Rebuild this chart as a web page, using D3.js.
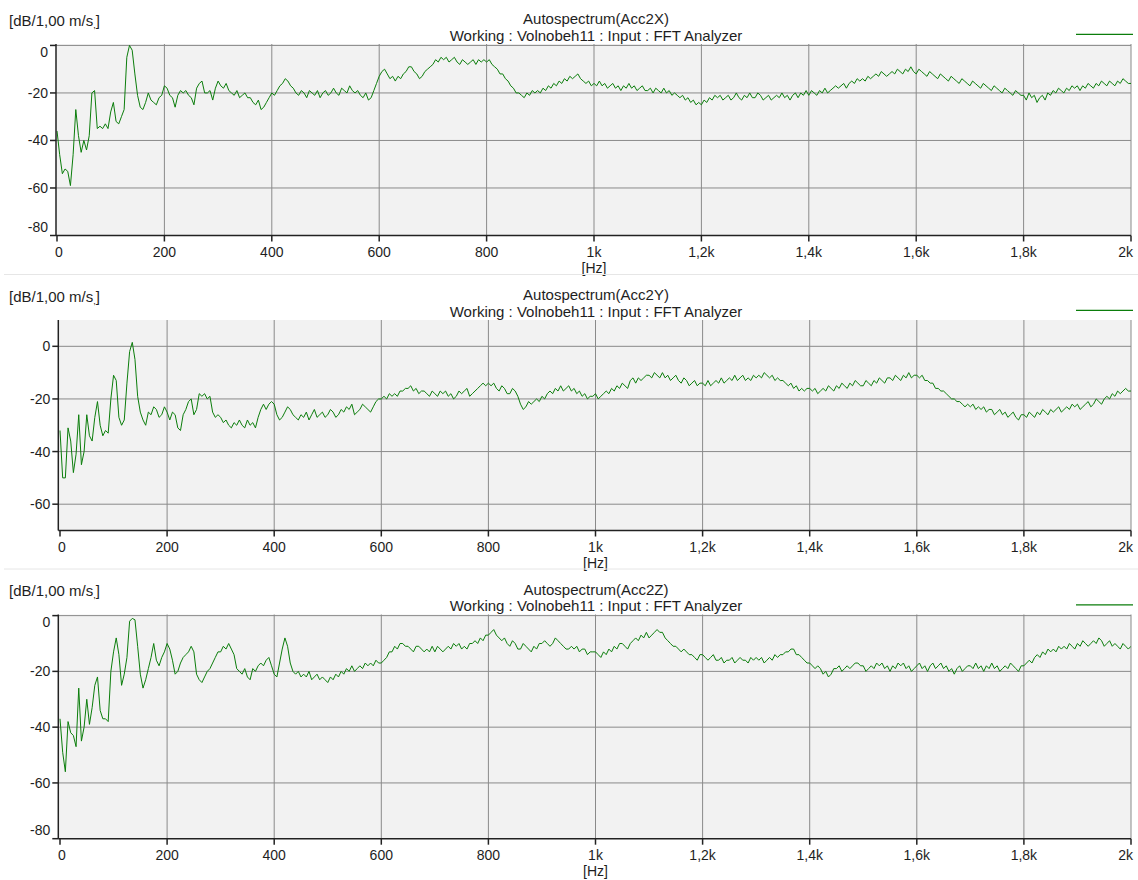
<!DOCTYPE html>
<html>
<head>
<meta charset="utf-8">
<script src="https://cdn.jsdelivr.net/npm/d3@7"></script>
<style>
  body { margin: 0; background: #fff; }
  svg text { font-family: "Liberation Sans", Arial, sans-serif; fill: #1e1e1e; }
</style>
</head>
<body>
<svg id="chart" width="1138" height="880"></svg>
<script>
// frequency bins [Hz], 5 Hz resolution
var freqLow = [0,5,10,15,20,25,30,35,40,45, 50,55,60,65,70,75,80,85,90,95,
  100,105,110,115,120,125,130,135,140,145, 150,155,160,165,170,175,180,185,190,195,
  200,205,210,215,220,225,230,235,240,245, 250,255,260,265,270,275,280,285,290,295];
var freqHigh = [
  300,305,310,315,320,325,330,335,340,345,350,355,360,365,370,375,380,385,390,395,
  400,405,410,415,420,425,430,435,440,445,450,455,460,465,470,475,480,485,490,495,
  500,505,510,515,520,525,530,535,540,545,550,555,560,565,570,575,580,585,590,595,
  600,605,610,615,620,625,630,635,640,645,650,655,660,665,670,675,680,685,690,695,
  700,705,710,715,720,725,730,735,740,745,750,755,760,765,770,775,780,785,790,795,
  800,805,810,815,820,825,830,835,840,845,850,855,860,865,870,875,880,885,890,895,
  900,905,910,915,920,925,930,935,940,945,950,955,960,965,970,975,980,985,990,995,
  1000,1005,1010,1015,1020,1025,1030,1035,1040,1045,1050,1055,1060,1065,1070,1075,1080,1085,1090,1095,
  1100,1105,1110,1115,1120,1125,1130,1135,1140,1145,1150,1155,1160,1165,1170,1175,1180,1185,1190,1195,
  1200,1205,1210,1215,1220,1225,1230,1235,1240,1245,1250,1255,1260,1265,1270,1275,1280,1285,1290,1295,
  1300,1305,1310,1315,1320,1325,1330,1335,1340,1345,1350,1355,1360,1365,1370,1375,1380,1385,1390,1395,
  1400,1405,1410,1415,1420,1425,1430,1435,1440,1445,1450,1455,1460,1465,1470,1475,1480,1485,1490,1495,
  1500,1505,1510,1515,1520,1525,1530,1535,1540,1545,1550,1555,1560,1565,1570,1575,1580,1585,1590,1595,
  1600,1605,1610,1615,1620,1625,1630,1635,1640,1645,1650,1655,1660,1665,1670,1675,1680,1685,1690,1695,
  1700,1705,1710,1715,1720,1725,1730,1735,1740,1745,1750,1755,1760,1765,1770,1775,1780,1785,1790,1795,
  1800,1805,1810,1815,1820,1825,1830,1835,1840,1845,1850,1855,1860,1865,1870,1875,1880,1885,1890,1895,
  1900,1905,1910,1915,1920,1925,1930,1935,1940,1945,1950,1955,1960,1965,1970,1975,1980,1985,1990,1995,
  2000];

// Acc2X [dB]
var acc2xLow = [-36,-46,-54,-52,-53,-59,-46,-27,-38,-45,
  -40,-44,-38,-20,-19,-35,-34,-35,-33,-35,
  -28,-24,-32,-33,-30,-27,-5,0,-2,-12,
  -21,-26,-27,-24,-20,-23,-24,-25,-22,-21,
  -17,-18,-21,-22,-26,-21,-19,-20,-19,-21,
  -22,-25,-18,-16,-15,-20,-20,-19,-23,-18];
var acc2xHigh = [
  -15,-17,-18,-16,-19,-20,-21,-19,-22,-21, -20,-22,-22,-24,-25,-23,-27,-26,-24,-22,
  -20,-21,-19,-17,-16,-14,-15,-17,-18,-20, -21,-19,-20,-22,-19,-20,-21,-19,-22,-20,
  -19,-21,-20,-18,-20,-21,-18,-19,-20,-17, -19,-20,-19,-21,-22,-20,-23,-22,-19,-16,
  -13,-11,-10,-12,-14,-13,-15,-13,-14,-12, -11,-9,-9,-11,-12,-14,-13,-11,-10,-9,
  -8,-6,-7,-5,-6,-5,-7,-6,-5,-7, -8,-6,-7,-8,-7,-6,-8,-6,-7,-6,
  -7,-6,-8,-9,-10,-12,-12,-14,-15,-17, -18,-20,-20,-21,-22,-20,-21,-19,-20,-19,
  -20,-18,-19,-17,-18,-16,-17,-15,-16,-14, -15,-13,-14,-13,-12,-14,-15,-16,-15,-17,
  -16,-17,-15,-17,-16,-18,-17,-16,-18,-17, -19,-17,-18,-16,-18,-17,-19,-18,-17,-19,
  -19,-18,-20,-18,-19,-20,-18,-20,-19,-21, -20,-21,-22,-21,-23,-22,-24,-23,-25,-24,
  -25,-23,-24,-22,-23,-21,-22,-21,-23,-22, -21,-23,-22,-20,-22,-23,-21,-22,-20,-22,
  -22,-20,-21,-23,-22,-21,-23,-22,-21,-22, -20,-22,-21,-23,-21,-20,-22,-20,-21,-19,
  -21,-19,-20,-21,-19,-20,-18,-20,-19,-18, -17,-18,-17,-16,-18,-16,-15,-16,-14,-15,
  -14,-15,-13,-14,-13,-12,-13,-11,-12,-13, -12,-11,-12,-10,-11,-12,-10,-11,-9,-11,
  -12,-10,-11,-12,-13,-11,-12,-13,-14,-12, -13,-14,-15,-13,-14,-15,-16,-14,-15,-16,
  -17,-15,-16,-17,-18,-16,-17,-18,-19,-17, -18,-19,-20,-18,-19,-20,-21,-19,-20,-21,
  -21,-23,-20,-22,-21,-24,-22,-21,-23,-20, -21,-19,-20,-18,-19,-20,-18,-19,-17,-18,
  -17,-19,-17,-18,-16,-17,-18,-16,-17,-15, -16,-17,-15,-16,-17,-15,-16,-14,-15,-16,
  -16];

// Acc2Y [dB]
var acc2yLow = [-32,-50,-50,-31,-36,-48,-41,-26,-45,-40,
  -26,-34,-36,-27,-21,-30,-34,-32,-33,-20,
  -11,-13,-27,-30,-28,-14,-2,1.5,-5,-19,
  -25,-28,-30,-25,-26,-23,-24,-27,-26,-23,
  -25,-28,-25,-26,-31,-32,-26,-24,-21,-20,
  -26,-24,-18,-19,-18,-20,-19,-25,-27,-26];
var acc2yHigh = [
  -27,-29,-28,-30,-31,-29,-30,-28,-30,-31, -28,-30,-29,-31,-27,-24,-22,-24,-22,-21,
  -22,-26,-28,-27,-25,-23,-24,-26,-27,-28, -26,-27,-25,-28,-26,-24,-27,-26,-25,-27,
  -26,-24,-25,-27,-26,-24,-25,-23,-24,-22, -26,-25,-24,-22,-23,-24,-25,-23,-21,-20,
  -20,-19,-20,-18,-19,-18,-19,-17,-17,-16, -16,-15,-17,-16,-18,-17,-17,-18,-19,-17,
  -18,-19,-17,-18,-17,-19,-18,-20,-19,-17, -18,-17,-16,-19,-18,-17,-16,-15,-14,-15,
  -14,-15,-14,-16,-17,-15,-16,-18,-18,-16, -17,-19,-22,-24,-23,-21,-22,-21,-20,-21,
  -19,-20,-18,-17,-18,-16,-17,-15,-17,-16, -15,-17,-16,-18,-17,-19,-18,-20,-19,-19,
  -18,-20,-19,-18,-17,-18,-16,-17,-15,-16, -14,-15,-16,-13,-12,-14,-12,-13,-12,-11,
  -11,-12,-10,-11,-12,-10,-12,-11,-13,-12, -11,-13,-14,-12,-13,-15,-14,-13,-15,-14,
  -14,-15,-13,-15,-14,-13,-14,-12,-14,-13, -12,-13,-11,-13,-12,-11,-13,-12,-13,-11,
  -12,-11,-12,-10,-11,-12,-11,-13,-12,-13, -13,-14,-15,-14,-16,-15,-17,-16,-17,-16,
  -16,-17,-16,-18,-17,-16,-17,-15,-16,-17, -15,-16,-14,-15,-16,-14,-15,-13,-14,-15,
  -15,-13,-14,-15,-13,-14,-12,-13,-14,-12, -12,-13,-11,-12,-13,-11,-12,-10,-12,-11,
  -11,-12,-11,-13,-13,-14,-14,-16,-16,-17, -17,-18,-19,-20,-20,-21,-21,-22,-23,-22,
  -23,-22,-24,-23,-24,-23,-25,-24,-24,-26, -25,-24,-26,-25,-27,-26,-25,-27,-28,-26,
  -26,-27,-25,-26,-27,-25,-26,-24,-25,-26, -24,-25,-24,-23,-25,-24,-23,-24,-22,-23,
  -22,-24,-23,-22,-21,-23,-22,-20,-21,-22, -20,-19,-20,-18,-19,-17,-18,-17,-16,-17,
  -17];

// Acc2Z [dB]
var acc2zLow = [-37,-49,-56,-38,-42,-43,-47,-26,-45,-40,
  -30,-39,-33,-25,-22,-34,-37,-37,-38,-20,
  -13,-8,-14,-25,-21,-15,-2,-1,-1.5,-11,
  -21,-26,-23,-19,-15,-10,-16,-18,-15,-13,
  -10,-12,-16,-21,-20,-17,-15,-14,-13,-11,
  -13,-21,-23,-24,-22,-20,-19,-17,-15,-13];
var acc2zHigh = [
  -13,-11,-12,-10,-12,-14,-19,-20,-21,-19, -22,-23,-19,-20,-18,-17,-18,-16,-15,-18,
  -21,-22,-17,-12,-8,-11,-17,-20,-21,-20, -22,-21,-22,-20,-23,-22,-21,-23,-22,-23,
  -24,-22,-23,-21,-22,-20,-21,-19,-20,-18, -20,-19,-18,-19,-17,-18,-17,-18,-16,-17,
  -17,-16,-15,-13,-13,-11,-12,-10,-10,-11, -11,-12,-13,-11,-11,-12,-13,-12,-13,-11,
  -13,-11,-12,-13,-12,-11,-12,-10,-11,-10, -12,-11,-12,-10,-10,-9,-10,-8,-9,-7,
  -7,-6,-5,-7,-8,-9,-8,-10,-11,-9, -10,-12,-12,-10,-11,-12,-13,-11,-12,-10,
  -10,-9,-10,-11,-10,-8,-9,-10,-11,-12, -12,-11,-12,-11,-13,-12,-12,-14,-13,-13,
  -13,-14,-15,-13,-14,-12,-13,-11,-12,-10, -10,-11,-12,-10,-9,-8,-9,-7,-8,-6,
  -8,-7,-6,-5,-6,-6,-8,-9,-10,-11, -11,-12,-13,-12,-13,-14,-14,-15,-16,-14,
  -14,-15,-16,-15,-14,-16,-16,-15,-17,-16, -16,-15,-17,-16,-15,-16,-16,-17,-15,-16,
  -15,-16,-15,-17,-16,-15,-16,-14,-15,-14, -14,-13,-13,-12,-12,-14,-14,-15,-16,-17,
  -17,-18,-19,-18,-19,-21,-20,-22,-21,-19, -19,-18,-20,-19,-18,-19,-18,-17,-17,-18,
  -18,-20,-19,-18,-19,-17,-18,-17,-19,-18, -20,-18,-19,-17,-18,-17,-19,-18,-20,-19,
  -18,-17,-19,-18,-20,-18,-17,-19,-18,-17, -19,-18,-20,-19,-21,-19,-18,-20,-19,-18,
  -18,-19,-17,-19,-18,-20,-18,-19,-17,-19, -18,-20,-19,-18,-19,-17,-18,-19,-20,-18,
  -18,-17,-16,-17,-15,-14,-15,-13,-14,-12, -13,-12,-13,-11,-12,-11,-12,-10,-11,-12,
  -10,-11,-9,-10,-11,-10,-9,-10,-8,-9, -11,-10,-9,-11,-10,-11,-12,-10,-11,-12,
  -11];

var xTickValues = [0,200,400,600,800,1000,1200,1400,1600,1800,2000];
var xTickLabels = ['0','200','400','600','800','1k','1,2k','1,4k','1,6k','1,8k','2k'];
var yTicksX = [0,-20,-40,-60,-80];
var yTicksY = [0,-20,-40,-60];
var yTicksZ = [0,-20,-40,-60,-80];
var titles = ['Autospectrum(Acc2X)', 'Autospectrum(Acc2Y)', 'Autospectrum(Acc2Z)'];
var subtitle = 'Working : Volnobeh11 : Input : FFT Analyzer';

var svg = d3.select('#chart');
var green = '#0b7d0b';

function series(low, high) {
  var f = freqLow.concat(freqHigh), v = low.concat(high);
  var n = Math.min(f.length, v.length), out = [];
  for (var i = 0; i < n; i++) out.push({ f: f[i], v: v[i] });
  return out;
}

var panels = [
  { title: titles[0], data: series(acc2xLow, acc2xHigh), yDomain: [-80, 0.6], yTicks: yTicksX,
    top: 44, bottom: 235.5, axisX: 56, x0: 57, sep: 274.5 },
  { title: titles[1], data: series(acc2yLow, acc2yHigh), yDomain: [-70, 10], yTicks: yTicksY,
    top: 320, bottom: 530.5, axisX: 58.3, x0: 60, sep: 569 },
  { title: titles[2], data: series(acc2zLow, acc2zHigh), yDomain: [-80, 0.4], yTicks: yTicksZ,
    top: 614.5, bottom: 838.7, axisX: 58.3, x0: 60, sep: null }
];

panels.forEach(function (p, pi) {
  var right = 1131;
  var x = d3.scaleLinear().domain([0, 2000]).range([p.x0, right]);
  var y = d3.scaleLinear().domain(p.yDomain).range([p.bottom, p.top]);
  var g = svg.append('g');

  // plot background
  g.append('rect')
    .attr('x', p.axisX).attr('y', p.top)
    .attr('width', right - p.axisX).attr('height', p.bottom - p.top)
    .attr('fill', '#f2f2f2');

  // grid
  g.selectAll('.vg').data(xTickValues.slice(1))
    .enter().append('line')
      .attr('x1', function (d) { return x(d); }).attr('x2', function (d) { return x(d); })
      .attr('y1', p.top).attr('y2', p.bottom)
      .attr('stroke', '#8a8a8a').attr('stroke-width', 1);
  g.selectAll('.hg').data(p.yTicks.filter(function (d) { return y(d) > p.top + 1 && y(d) < p.bottom - 1; }))
    .enter().append('line')
      .attr('x1', p.axisX).attr('x2', right)
      .attr('y1', function (d) { return y(d); }).attr('y2', function (d) { return y(d); })
      .attr('stroke', '#8a8a8a').attr('stroke-width', 1);

  // trace
  var clipId = 'clip' + pi;
  svg.append('clipPath').attr('id', clipId).append('rect')
    .attr('x', p.axisX).attr('y', p.top - 1)
    .attr('width', right - p.axisX).attr('height', p.bottom - p.top + 1);
  g.append('path')
    .datum(p.data)
    .attr('clip-path', 'url(#' + clipId + ')')
    .attr('fill', 'none')
    .attr('stroke', green)
    .attr('stroke-width', 1)
    .attr('stroke-linejoin', 'round')
    .attr('d', d3.line().x(function (d) { return x(d.f); }).y(function (d) { return y(d.v); }));

  // axes
  g.append('line').attr('x1', p.axisX).attr('x2', p.axisX).attr('y1', p.top).attr('y2', p.bottom)
    .attr('stroke', '#222').attr('stroke-width', 1.5);
  g.append('line').attr('x1', p.axisX).attr('x2', right).attr('y1', p.bottom).attr('y2', p.bottom)
    .attr('stroke', '#222').attr('stroke-width', 1.5);

  var yt = g.selectAll('.yt').data(p.yTicks).enter().append('g');
  yt.append('line')
    .attr('x1', p.axisX - 6).attr('x2', p.axisX)
    .attr('y1', function (d) { return y(d); }).attr('y2', function (d) { return y(d); })
    .attr('stroke', '#222').attr('stroke-width', 1.5);
  yt.append('text')
    .attr('x', p.axisX - 8)
    .attr('y', function (d) { return Math.max(p.top + 7.5, Math.min(p.bottom - 8.5, y(d))) + 5; })
    .attr('text-anchor', 'end')
    .attr('font-size', 14)
    .text(function (d) { return d; });

  var xt = g.selectAll('.xt').data(xTickValues).enter().append('g');
  xt.append('line')
    .attr('x1', function (d) { return x(d); }).attr('x2', function (d) { return x(d); })
    .attr('y1', p.bottom).attr('y2', p.bottom + 6)
    .attr('stroke', '#222').attr('stroke-width', 1.5);
  xt.append('text')
    .attr('x', function (d, i) {
      if (i === 0) return x(d) + 2;
      if (i === xTickValues.length - 1) return x(d) + 2;
      return x(d);
    })
    .attr('y', p.bottom + 21.5)
    .attr('text-anchor', function (d, i) { return i === xTickValues.length - 1 ? 'end' : 'middle'; })
    .attr('font-size', 14)
    .text(function (d, i) { return xTickLabels[i]; });
  g.append('text')
    .attr('x', x(1000)).attr('y', p.bottom + 37.5)
    .attr('text-anchor', 'middle').attr('font-size', 14)
    .text('[Hz]');

  // titles, unit, legend
  g.append('text').attr('x', 596).attr('y', p.top - 20)
    .attr('text-anchor', 'middle').attr('font-size', 15).text(p.title);
  g.append('text').attr('x', 596).attr('y', p.top - 3.5)
    .attr('text-anchor', 'middle').attr('font-size', 15).text(subtitle);
  var unit = g.append('text').attr('x', 9).attr('y', p.top - 18.5).attr('font-size', 15);
  unit.append('tspan').text('[dB/1,00 m/s');
  unit.append('tspan').attr('font-size', 9).attr('dy', 2).text(',');
  unit.append('tspan').attr('dy', -2).text(']');

  g.append('line')
    .attr('x1', 1076).attr('x2', 1133)
    .attr('y1', p.top - 9.7).attr('y2', p.top - 9.7)
    .attr('stroke', green).attr('stroke-width', 1.2);

  if (p.sep) {
    svg.append('line').attr('x1', 4).attr('x2', 1138).attr('y1', p.sep).attr('y2', p.sep)
      .attr('stroke', '#e6e6e6').attr('stroke-width', 1);
  }
});
</script>
</body>
</html>
